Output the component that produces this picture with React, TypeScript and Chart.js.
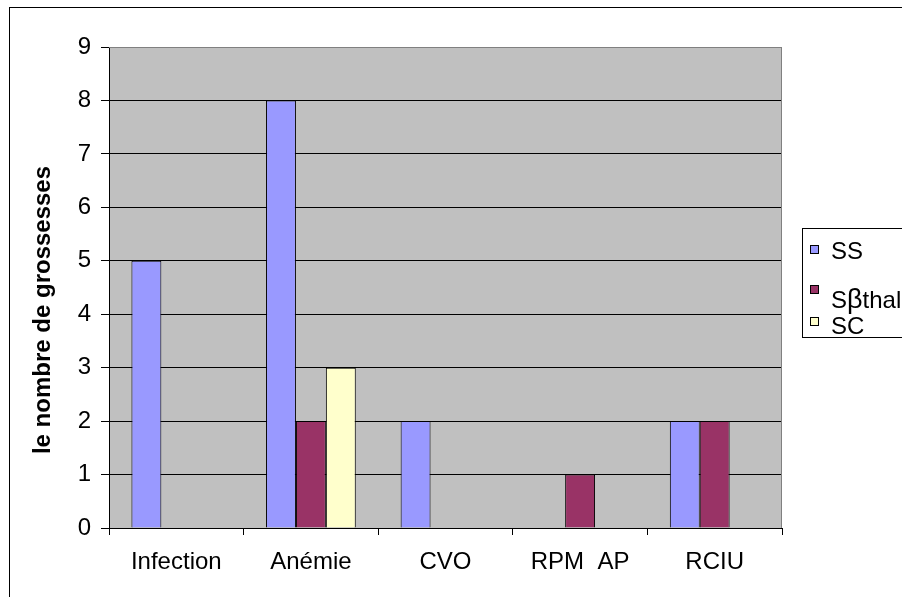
import React, { useEffect, useRef } from "react";
import { Chart, registerables } from "chart.js";

Chart.register(...registerables);

const categories = ["Infection", "Anémie", "CVO", "RPM  AP", "RCIU"];
const seriesNames = ["SS", "Sβthal", "SC"];
const ssValues = [5, 8, 2, 0, 2];
const sbthalValues = [0, 2, 0, 1, 2];
const scValues = [0, 3, 0, 0, 0];
const seriesColors = ["#9999FF", "#993366", "#FFFFCC"];
const yMin = 0;
const yMax = 9;
const yStep = 1;
const yTitle = "le nombre de grossesses";

const FONT = '"Liberation Sans", Arial, Helvetica, sans-serif';

const plotFrame = {
  id: "plotFrame",
  beforeDraw(chart: any) {
    const { ctx, chartArea } = chart;
    const { left, top, right, bottom } = chartArea;
    ctx.save();
    ctx.fillStyle = "#C0C0C0";
    ctx.fillRect(left, top, right - left, bottom - top);
    ctx.restore();
  },
  afterDraw(chart: any) {
    const { ctx, chartArea } = chart;
    const { left, top, right, bottom } = chartArea;
    ctx.save();
    ctx.strokeStyle = "#808080";
    ctx.lineWidth = 1;
    ctx.beginPath();
    ctx.moveTo(left, top + 0.5);
    ctx.lineTo(right - 0.5, top + 0.5);
    ctx.lineTo(right - 0.5, bottom);
    ctx.stroke();
    // y-axis title
    ctx.translate(49.5, 310);
    ctx.rotate(-Math.PI / 2);
    ctx.fillStyle = "#000";
    ctx.font = `bold 24px ${FONT}`;
    ctx.textAlign = "center";
    ctx.textBaseline = "alphabetic";
    ctx.fillText(yTitle, 0, 0);
    ctx.restore();
  },
};

export default function App() {
  const canvasRef = useRef<HTMLCanvasElement | null>(null);

  useEffect(() => {
    if (!canvasRef.current) return;
    const valueSets = [ssValues, sbthalValues, scValues];
    const chart = new Chart(canvasRef.current, {
      type: "bar",
      data: {
        labels: categories,
        datasets: seriesNames.map((name, i) => ({
          label: name,
          data: valueSets[i],
          backgroundColor: seriesColors[i],
          borderColor: "#000000",
          borderWidth: 1,
          categoryPercentage: 2 / 3,
          barPercentage: 1,
        })),
      },
      options: {
        responsive: false,
        maintainAspectRatio: false,
        animation: false,
        devicePixelRatio: 1,
        layout: { padding: { left: 0, top: 47, right: 120, bottom: 0 } },
        plugins: {
          legend: { display: false },
          tooltip: { enabled: false },
          title: { display: false },
        },
        scales: {
          x: {
            type: "category",
            offset: true,
            grid: {
              display: true,
              offset: true,
              drawOnChartArea: false,
              drawTicks: true,
              tickLength: 7,
              color: "#000000",
              tickColor: "#000000",
              lineWidth: 1,
            },
            border: { display: true, color: "#000000", width: 1 },
            ticks: {
              color: "#000000",
              font: { family: FONT, size: 24 },
              padding: 13,
              maxRotation: 0,
              autoSkip: false,
            },
            afterFit: (scale: any) => {
              scale.height = 69;
            },
          },
          y: {
            min: yMin,
            max: yMax,
            grid: {
              color: (c: any) => (c.tick && c.tick.value === yMax ? "#808080" : "#000000"),
              tickColor: "#000000",
              tickLength: 8,
              drawTicks: true,
              lineWidth: 1,
            },
            border: { display: true, color: "#000000", width: 1 },
            ticks: {
              stepSize: yStep,
              color: "#000000",
              font: { family: FONT, size: 24 },
              padding: 10,
            },
            afterFit: (scale: any) => {
              scale.width = 109;
            },
          },
        },
      },
      plugins: [plotFrame],
    });
    return () => chart.destroy();
  }, []);

  const legendItems = [
    { name: seriesNames[0], color: seriesColors[0], sq: 245, txt: 239 },
    { name: seriesNames[1], color: seriesColors[1], sq: 285, txt: 287 },
    { name: seriesNames[2], color: seriesColors[2], sq: 317, txt: 313.5 },
  ];

  return (
    <div
      style={{
        position: "fixed",
        left: 0,
        top: 0,
        width: 902,
        height: 597,
        overflow: "hidden",
        background: "#ffffff",
        fontFamily: FONT,
      }}
    >
      <div
        style={{
          position: "absolute",
          left: 9,
          top: 7,
          width: 1000,
          height: 1000,
          border: "1px solid #000",
        }}
      />
      <canvas
        ref={canvasRef}
        width={902}
        height={597}
        style={{ position: "absolute", left: 0, top: 0, width: 902, height: 597 }}
      />
      <div
        style={{
          position: "absolute",
          left: 802,
          top: 228,
          width: 200,
          height: 108,
          border: "1px solid #000",
          background: "#fff",
        }}
      />
      {legendItems.map((it) => (
        <React.Fragment key={it.name}>
          <div
            style={{
              position: "absolute",
              left: 810,
              top: it.sq,
              width: 7,
              height: 7,
              border: "1px solid #000",
              background: it.color,
            }}
          />
          <div
            style={{
              position: "absolute",
              left: 831,
              top: it.txt,
              fontSize: 24,
              lineHeight: "24px",
              color: "#000",
              whiteSpace: "pre",
            }}
          >
            {it.name === "Sβthal" ? (
              <>
                S<span style={{ fontSize: 27 }}>β</span>thal
              </>
            ) : (
              it.name
            )}
          </div>
        </React.Fragment>
      ))}
    </div>
  );
}
